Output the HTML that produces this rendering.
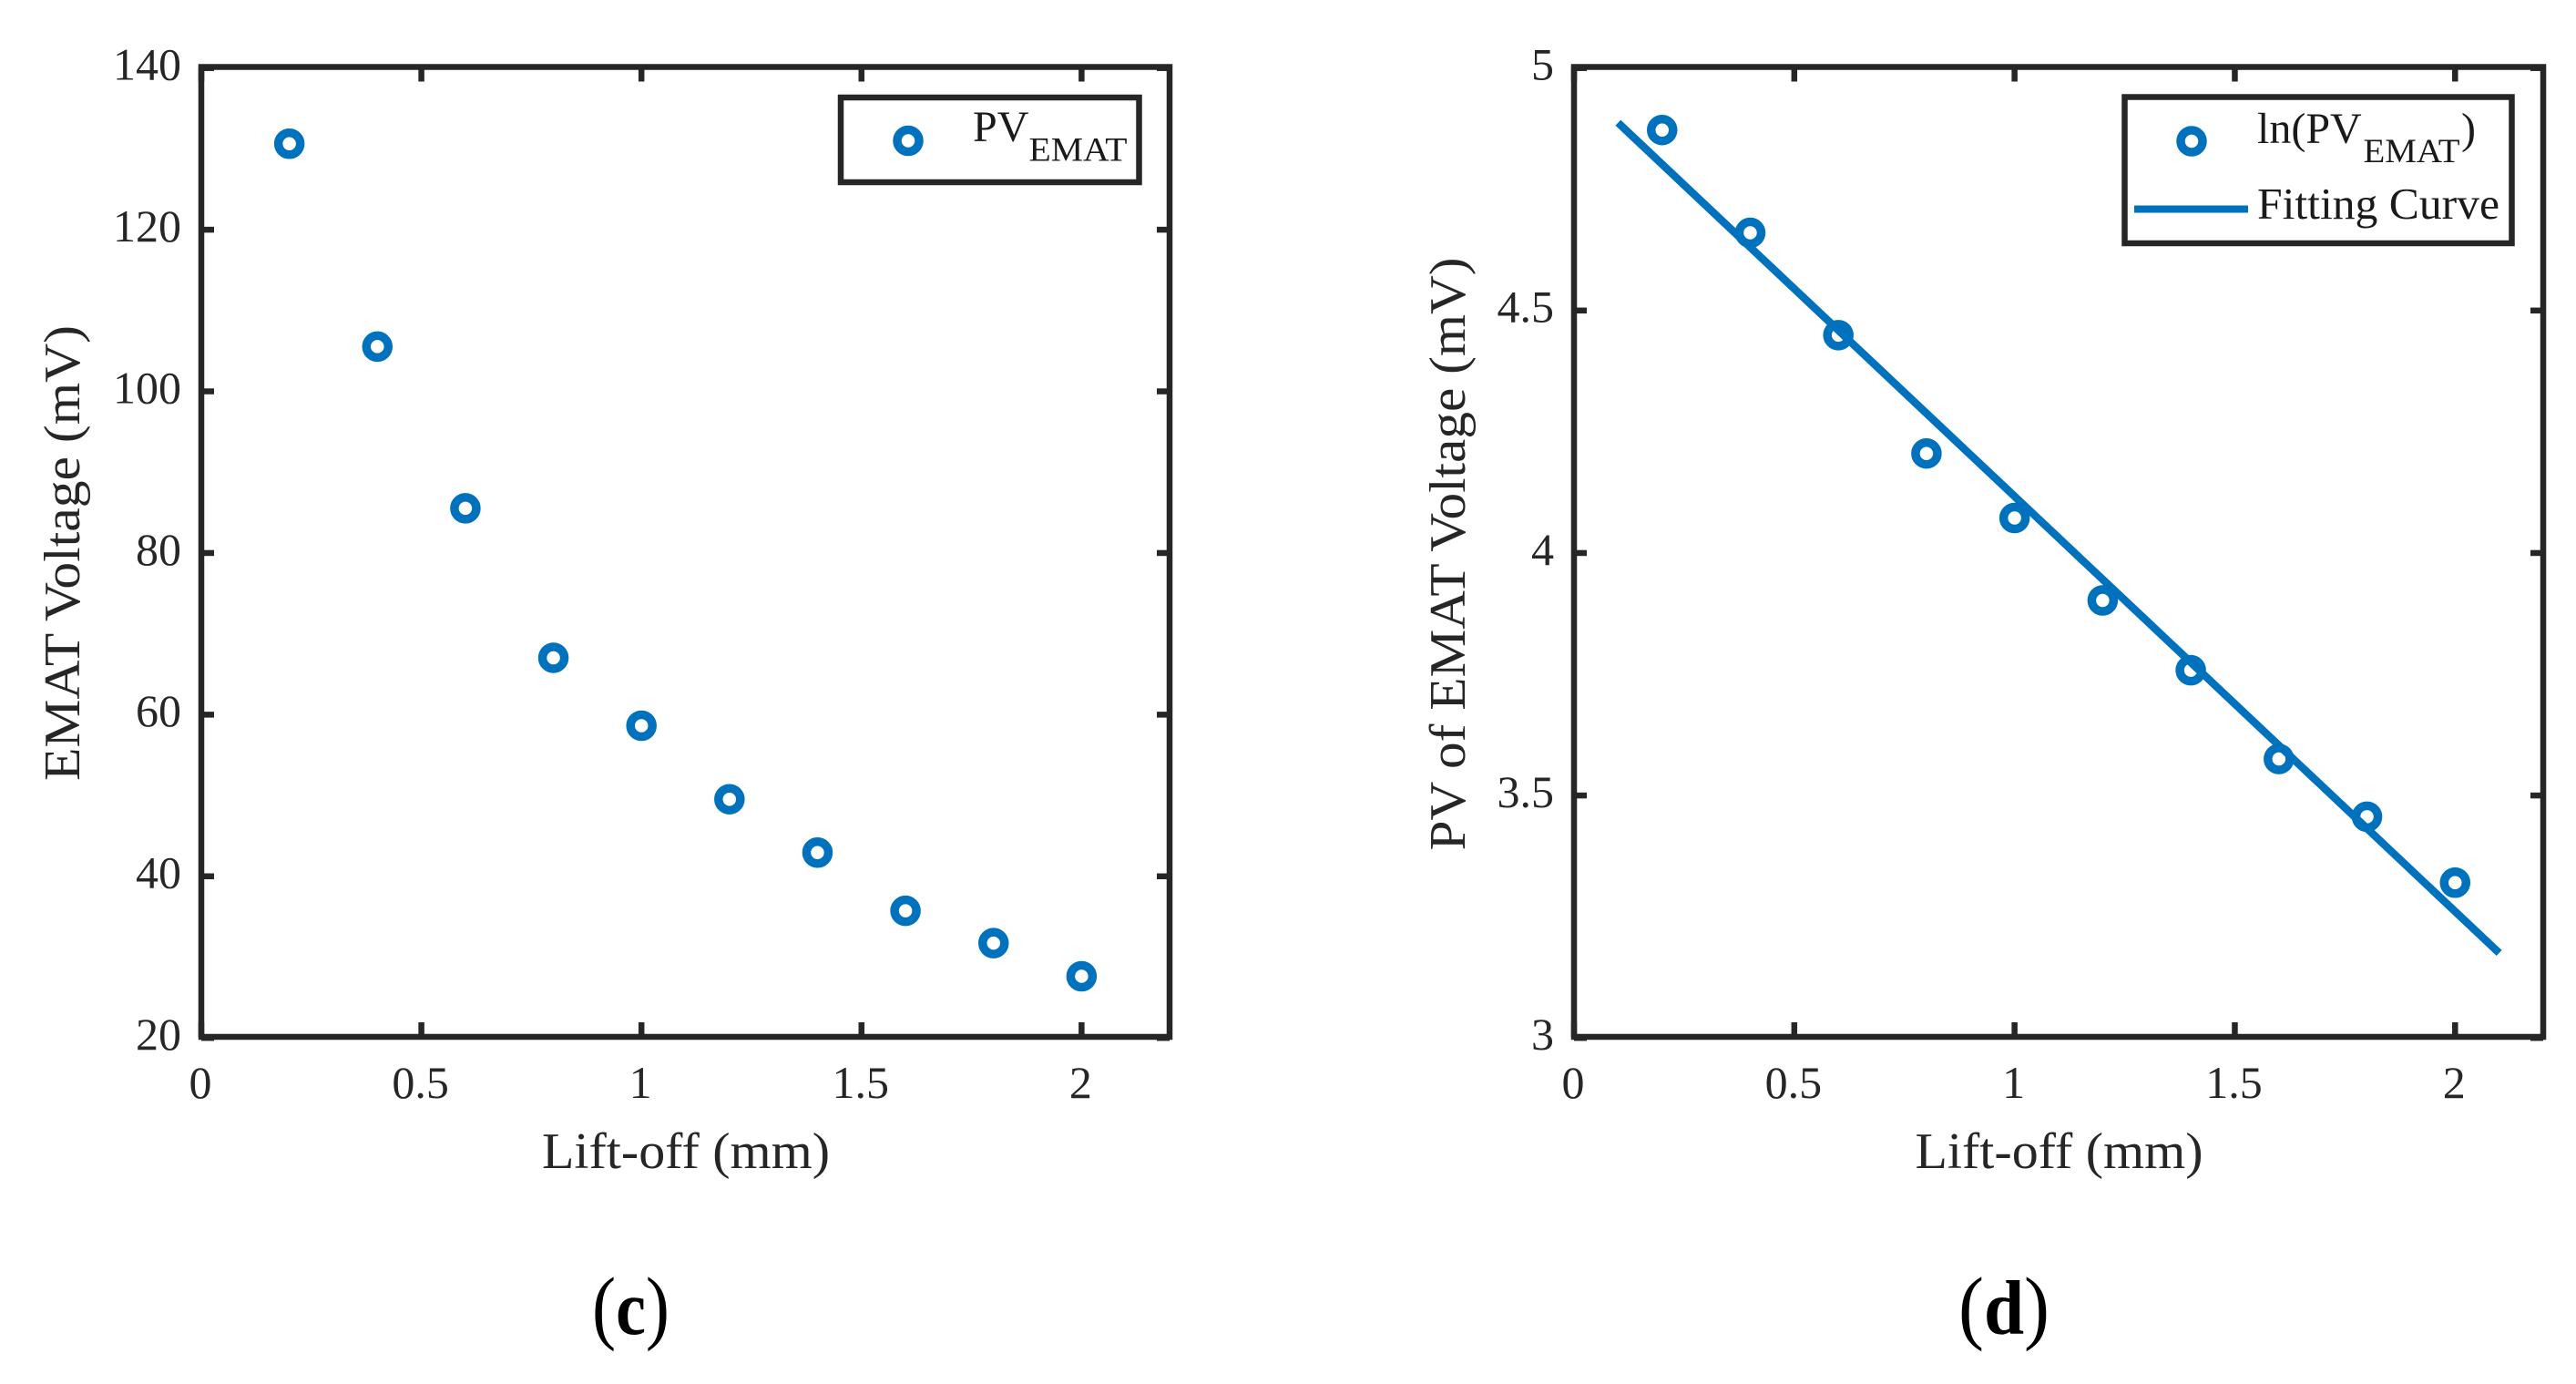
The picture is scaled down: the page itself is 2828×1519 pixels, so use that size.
<!DOCTYPE html>
<html lang="en">
<head>
<meta charset="utf-8">
<title>EMAT Voltage vs Lift-off</title>
<style>
html,body{margin:0;padding:0;background:#fff;}
body{width:2828px;height:1519px;overflow:hidden;}
svg{display:block;}
text{font-family:"Liberation Serif",serif;fill:#262626;}
</style>
</head>
<body>
<svg id="chart" xmlns="http://www.w3.org/2000/svg" width="2828" height="1519" viewBox="0 0 2828 1519">
  <rect x="0" y="0" width="2828" height="1519" fill="#ffffff"/>
  <g id="panel-c"></g>
  <g id="panel-d"></g>

  <g>
    <rect x="923" y="107" width="327.5" height="93" fill="#fff" stroke="#262626" stroke-width="6.5"/>
    <circle cx="997" cy="154.5" r="12" fill="none" stroke="#0072bd" stroke-width="9.5"/>
    <text style="fill:#1a1a1a" x="1068" y="155" font-size="48">PV</text>
    <text style="fill:#1a1a1a" x="1129.5" y="176.5" font-size="37" textLength="108" lengthAdjust="spacingAndGlyphs">EMAT</text>
  </g>

  <g>
    <rect x="2332.5" y="106.5" width="425" height="160.5" fill="#fff" stroke="#262626" stroke-width="6.5"/>
    <circle cx="2406" cy="155" r="12" fill="none" stroke="#0072bd" stroke-width="9.5"/>
    <text style="fill:#1a1a1a" x="2478" y="157" font-size="48">ln(PV</text>
    <text style="fill:#1a1a1a" x="2594.5" y="178" font-size="37" textLength="106" lengthAdjust="spacingAndGlyphs">EMAT</text>
    <text style="fill:#1a1a1a" x="2702" y="157" font-size="48">)</text>
    <rect x="2343" y="225.5" width="125" height="8" fill="#0072bd"/>
    <text style="fill:#1a1a1a" x="2478" y="240" font-size="49" textLength="266" lengthAdjust="spacingAndGlyphs">Fitting Curve</text>
  </g>

  <text style="fill:#000" x="650" y="1464" font-size="90" textLength="85" lengthAdjust="spacingAndGlyphs">(<tspan font-weight="bold" font-size="85">c</tspan>)</text>
  <text style="fill:#000" x="2150" y="1464" font-size="90" textLength="100" lengthAdjust="spacingAndGlyphs">(<tspan font-weight="bold" font-size="85">d</tspan>)</text>
</svg>

<script>
// Shared tick values and labels
const liftOffTicks = [0, 0.5, 1, 1.5, 2];
const liftOffTickLabels = ["0", "0.5", "1", "1.5", "2"];

// Panel (c)
const liftOff = [0.2, 0.4, 0.6, 0.8, 1.0, 1.2, 1.4, 1.6, 1.8, 2.0];
const voltage = [130.5, 105.4, 85.4, 66.9, 58.5, 49.4, 42.8, 35.6, 31.6, 27.5];
const voltageTicks = [20, 40, 60, 80, 100, 120, 140];
const voltageTickLabels = ["20", "40", "60", "80", "100", "120", "140"];

// Panel (d)
const logVoltage = [4.87, 4.658, 4.447, 4.203, 4.07, 3.9, 3.756, 3.573, 3.454, 3.318];
const fitLiftOff = [0.1, 2.1];
const fitLogVoltage = [4.885, 3.173];
const logTicks = [3, 3.5, 4, 4.5, 5];
const logTickLabels = ["3", "3.5", "4", "4.5", "5"];

const SVGNS = "http://www.w3.org/2000/svg";
const AXIS_COLOR = "#262626";
const SERIES_COLOR = "#0072bd";

function make(parent, tag, attrs, text) {
  const el = document.createElementNS(SVGNS, tag);
  for (const k in attrs) el.setAttribute(k, attrs[k]);
  if (text !== undefined) el.textContent = text;
  parent.appendChild(el);
  return el;
}

function drawAxes(g, box, xDomain, yDomain, yTicks, yLabels, yTitle) {
  const x = v => box.left + (v - xDomain[0]) / (xDomain[1] - xDomain[0]) * (box.right - box.left);
  const y = v => box.bottom - (v - yDomain[0]) / (yDomain[1] - yDomain[0]) * (box.bottom - box.top);

  const frame = make(g, "rect", {
    x: box.left, y: box.top, width: box.right - box.left, height: box.bottom - box.top,
    fill: "none", stroke: AXIS_COLOR, "stroke-width": 6.5
  });
  
  

  liftOffTicks.forEach((t, i) => {
    const px = x(t);
    const bottomTick = make(g, "line", { x1: px, x2: px, y1: box.bottom, y2: box.bottom - 16, stroke: AXIS_COLOR, "stroke-width": 6.5 });
    
    
    const topTick = make(g, "line", { x1: px, x2: px, y1: box.top, y2: box.top + 16, stroke: AXIS_COLOR, "stroke-width": 6.5 });
    
    
    const label = make(g, "text", { x: px - 1, y: 1205, "text-anchor": "middle", "font-size": 50 }, liftOffTickLabels[i]);
    
    
  });

  yTicks.forEach((t, i) => {
    const py = y(t);
    const tickY = py + 1.2;
    const leftTick = make(g, "line", { x1: box.left, x2: box.left + 14, y1: tickY, y2: tickY, stroke: AXIS_COLOR, "stroke-width": 6.5 });
    
    
    const rightTick = make(g, "line", { x1: box.right, x2: box.right - 14, y1: tickY, y2: tickY, stroke: AXIS_COLOR, "stroke-width": 6.5 });
    
    
    const label = make(g, "text", { x: box.left - 22, y: py + 14, "text-anchor": "end", "font-size": 50 }, yLabels[i]);
    
    
  });

  const xTitle = make(g, "text", {
    x: (box.left + box.right) / 2 + 0.5, y: 1282, "text-anchor": "middle", "font-size": 56,
    textLength: 316, lengthAdjust: "spacingAndGlyphs"
  }, "Lift-off (mm)");
  
  

  const yT = make(g, "text", {
    transform: "translate(" + yTitle.x + "," + yTitle.y + ") rotate(-90)",
    "text-anchor": "middle", "font-size": 56,
    textLength: yTitle.len, lengthAdjust: "spacingAndGlyphs"
  }, yTitle.text);
  
  

  return { x, y };
}

function drawPoints(g, xs, ys, axes) {
  xs.forEach((v, i) => {
    const c = make(g, "circle", {
      cx: axes.x(v), cy: axes.y(ys[i]), r: 12,
      fill: "none", stroke: SERIES_COLOR, "stroke-width": 9.5
    });
    
    
  });
}

// Panel (c)
const gc = document.getElementById("panel-c");
const axesC = drawAxes(gc,
  { left: 221, right: 1284, top: 73.5, bottom: 1138 },
  [0, 2.2], [20, 140], voltageTicks, voltageTickLabels,
  { text: "EMAT Voltage (mV)", x: 87, y: 607, len: 500 });
drawPoints(gc, liftOff, voltage, axesC);

// Panel (d)
const gd = document.getElementById("panel-d");
const axesD = drawAxes(gd,
  { left: 1728, right: 2792, top: 73.5, bottom: 1138 },
  [0, 2.2], [3, 5], logTicks, logTickLabels,
  { text: "PV of EMAT Voltage (mV)", x: 1608, y: 608, len: 651 });
drawPoints(gd, liftOff, logVoltage, axesD);

const fitPoints = fitLiftOff.map((v, i) => axesD.x(v) + "," + axesD.y(fitLogVoltage[i])).join(" ");
const fitLine = make(gd, "polyline", { points: fitPoints, fill: "none", stroke: SERIES_COLOR, "stroke-width": 8.5 });


</script>
</body>
</html>
